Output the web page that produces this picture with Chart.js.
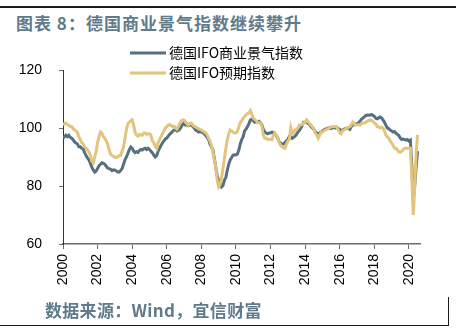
<!DOCTYPE html>
<html>
<head>
<meta charset="utf-8">
<script src="https://cdn.jsdelivr.net/npm/chart.js@4/dist/chart.umd.min.js"></script>
<style>
  html, body { margin: 0; padding: 0; background: #fff; }
  #wrap { position: relative; width: 456px; height: 331px; overflow: hidden; }
  #chart { position: absolute; left: 0; top: 0; }
  .title, .source {
    position: absolute;
    font-family: "Noto Sans CJK SC", sans-serif;
    font-weight: bold;
    font-size: 17px;
    color: #5f7b8b;
    white-space: nowrap;
    line-height: 20px;
  }
  .title { left: 16px; top: 13px; letter-spacing: 1px; }
  .source { left: 45px; top: 300px; letter-spacing: 0.3px; }
  .rule-top { position: absolute; left: 0; top: 6px; width: 456px; height: 2px; background: #1a1a1a; }
  .rule-bottom { position: absolute; left: 0; top: 325px; width: 449px; height: 1px; background: #1a1a1a; }
  .rule-right { position: absolute; left: 448px; top: 297px; width: 1px; height: 29px; background: #1a1a1a; }
</style>
</head>
<body>
<div id="wrap">
  <div class="rule-top"></div>
  <div class="title">图表 8：德国商业景气指数继续攀升</div>
  <canvas id="chart" width="456" height="331"></canvas>
  <div class="source">数据来源：Wind，宜信财富</div>
  <div class="rule-bottom"></div>
  <div class="rule-right"></div>
</div>
<script>
// Monthly readings, Jan 2000 .. Jul 2020
var startYear = 2000;

var climate = [
  96.5, 97.0, 97.5, 97.0, 97.5, 96.8, 96.5, 96.0, 95.2, 94.8, 94.5, 93.5,   // 2000
  93.5, 93.0, 92.8, 91.5, 90.5, 89.6, 89.0, 87.8, 86.5, 85.5, 84.8, 85.2,   // 2001
  86.0, 87.0, 87.5, 88.0, 87.8, 87.5, 86.8, 86.2, 86.0, 85.8, 85.3, 85.6,   // 2002
  85.5, 85.2, 84.8, 84.8, 85.3, 86.0, 87.5, 89.0, 90.0, 91.2, 92.5, 93.4,   // 2003
  93.0, 92.0, 91.5, 91.8, 91.6, 92.2, 92.6, 92.4, 92.8, 93.0, 92.6, 93.0,   // 2004
  92.6, 92.0, 91.5, 90.6, 90.0, 90.5, 92.0, 93.0, 94.0, 94.8, 95.6, 96.2,   // 2005
  96.5, 97.2, 97.8, 98.3, 98.8, 99.3, 99.5, 99.0, 99.2, 99.6, 100.4, 101.2, // 2006
  101.7, 101.0, 101.3, 100.8, 101.0, 101.0, 100.5, 100.0, 99.3, 99.0, 98.6, 98.8, // 2007
  98.6, 98.4, 98.0, 97.4, 96.8, 96.0, 94.4, 93.5, 92.4, 89.5, 86.5, 83.5,   // 2008
  82.0, 80.8, 79.7, 80.2, 82.0, 83.0, 85.5, 87.5, 89.0, 89.8, 90.7, 90.8,   // 2009
  90.7, 91.0, 92.4, 94.5, 96.0, 97.0, 99.0, 99.6, 100.5, 101.5, 102.8, 103.0, // 2010
  102.5, 102.0, 102.2, 102.0, 102.3, 101.8, 101.0, 99.5, 98.6, 98.3, 98.0, 98.3, // 2011
  98.3, 98.6, 98.3, 98.0, 97.4, 96.5, 95.2, 94.8, 94.5, 94.5, 95.0, 95.6,   // 2012
  96.0, 97.0, 96.8, 96.4, 96.8, 97.2, 97.8, 98.6, 99.2, 100.0, 101.0, 102.0, // 2013
  102.0, 102.0, 101.5, 101.2, 100.6, 100.0, 99.6, 98.8, 98.3, 98.0, 98.3, 98.6, // 2014
  99.0, 99.3, 99.6, 99.8, 100.0, 100.0, 99.8, 100.0, 100.3, 100.0, 100.2, 99.8, // 2015
  99.5, 99.0, 99.3, 99.6, 99.8, 100.0, 99.8, 99.5, 100.5, 101.0, 101.2, 101.3, // 2016
  101.5, 101.7, 102.3, 103.0, 103.4, 103.8, 104.3, 104.5, 104.4, 104.5, 104.6, 104.4, // 2017
  104.0, 103.4, 103.2, 103.5, 103.8, 103.5, 102.8, 102.0, 101.0, 100.0, 99.8, 99.3, // 2018
  99.0, 98.6, 98.8, 98.2, 97.8, 97.4, 96.5, 96.0, 96.2, 96.0, 95.8, 96.0,   // 2019
  95.5, 95.8, 87.0, 75.0, 80.0, 86.5, 92.0                                  // 2020
];

var expectations = [
  101.0, 101.5, 101.7, 101.2, 101.0, 100.5, 100.5, 99.8, 99.3, 99.0, 98.5, 97.0, // 2000
  96.0, 95.0, 94.5, 93.5, 93.0, 92.5, 91.7, 90.5, 88.5, 88.0, 90.0, 92.0,   // 2001
  95.0, 97.0, 98.6, 98.2, 97.0, 96.5, 95.5, 94.5, 92.5, 91.0, 90.5, 90.2,   // 2002
  90.0, 89.8, 90.0, 90.5, 90.5, 92.0, 93.4, 96.5, 99.5, 101.5, 102.0, 102.5, // 2003
  102.8, 101.0, 98.5, 97.6, 97.2, 97.8, 97.6, 97.5, 98.3, 98.3, 97.8, 98.0, // 2004
  98.0, 97.5, 95.5, 95.0, 93.5, 93.0, 95.0, 96.0, 97.0, 98.0, 99.0, 100.0,  // 2005
  100.4, 101.0, 101.2, 100.8, 100.5, 100.6, 100.0, 99.6, 100.5, 101.5, 102.5, 102.8, // 2006
  102.8, 102.0, 101.5, 101.0, 101.5, 101.7, 101.0, 100.6, 100.4, 100.0, 99.8, 99.5, // 2007
  99.3, 99.0, 98.6, 98.3, 97.6, 96.5, 95.5, 94.0, 91.7, 89.0, 86.6, 82.0,   // 2008
  79.7, 80.5, 82.8, 86.0, 89.6, 93.0, 96.0, 98.0, 99.3, 99.0, 98.6, 98.3,   // 2009
  98.3, 98.8, 100.4, 102.0, 102.5, 103.4, 104.0, 104.5, 105.0, 105.2, 106.0, 104.8, // 2010
  103.4, 103.0, 102.5, 102.0, 101.8, 101.7, 100.5, 97.5, 96.5, 96.5, 96.0, 96.0, // 2011
  96.2, 96.0, 97.5, 98.3, 97.6, 96.5, 95.0, 94.0, 93.5, 93.2, 93.0, 94.5,   // 2012
  95.5, 96.0, 100.0, 98.0, 98.3, 99.3, 99.5, 100.0, 101.0, 101.0, 101.3, 101.7, // 2013
  102.0, 102.8, 102.2, 101.5, 101.0, 100.4, 99.8, 98.3, 97.6, 96.5, 97.5, 98.6, // 2014
  98.6, 99.0, 99.3, 99.5, 99.8, 100.0, 100.4, 100.4, 100.6, 100.4, 100.4, 99.3, // 2015
  98.3, 98.0, 99.0, 99.3, 99.6, 100.0, 100.2, 100.5, 101.0, 102.0, 101.5, 101.0, // 2016
  101.0, 101.2, 101.0, 101.5, 101.7, 101.7, 102.0, 102.3, 102.5, 102.8, 102.6, 102.3, // 2017
  101.7, 101.5, 100.4, 100.4, 100.0, 100.3, 100.0, 99.0, 97.6, 97.0, 96.5, 95.5, // 2018
  94.8, 94.0, 93.0, 93.0, 92.5, 91.8, 91.7, 92.0, 92.5, 93.0, 93.0, 93.0,   // 2019
  93.0, 93.0, 83.0, 70.0, 79.5, 91.5, 97.6                                  // 2020
];

var seriesNames = ['德国IFO商业景气指数', '德国IFO预期指数'];
var yearTicks = [2000, 2002, 2004, 2006, 2008, 2010, 2012, 2014, 2016, 2018, 2020];
var valueTicks = [60, 80, 100, 120];

function toPoints(values) {
  return values.map(function (v, i) { return { x: startYear + i / 12, y: v }; });
}

// legend stacked in two rows above the plot, like the source figure
var stackedLegend = {
  id: 'stackedLegend',
  afterDraw: function (chart, args, opts) {
    var ctx = chart.ctx;
    ctx.save();
    ctx.font = '14px "Noto Sans CJK SC", sans-serif';
    ctx.textBaseline = 'middle';
    chart.data.datasets.forEach(function (ds, i) {
      var y = opts.top + i * opts.rowGap;
      ctx.strokeStyle = ds.borderColor;
      ctx.lineWidth = 3;
      ctx.beginPath();
      ctx.moveTo(opts.left, y);
      ctx.lineTo(opts.left + opts.lineLength, y);
      ctx.stroke();
      ctx.fillStyle = '#000';
      ctx.fillText(ds.label, opts.left + opts.lineLength + 3, y);
    });
    ctx.restore();
  }
};

new Chart(document.getElementById('chart'), {
  type: 'line',
  data: {
    datasets: [
      {
        label: seriesNames[0],
        data: toPoints(climate),
        borderColor: '#56707f',
        borderWidth: 3,
        pointRadius: 0,
        tension: 0,
        order: 1
      },
      {
        label: seriesNames[1],
        data: toPoints(expectations),
        borderColor: '#e2c47d',
        borderWidth: 3,
        pointRadius: 0,
        tension: 0,
        order: 0
      }
    ]
  },
  options: {
    responsive: false,
    animation: false,
    layout: { padding: { left: 0, right: 36, top: 70, bottom: 0 } },
    plugins: {
      legend: { display: false },
      tooltip: { enabled: false },
      title: { display: false },
      stackedLegend: { left: 130, top: 53, rowGap: 20, lineLength: 36 }
    },
    scales: {
      x: {
        type: 'linear',
        min: 2000,
        max: 2020.64,
        afterBuildTicks: function (scale) {
          scale.ticks = yearTicks.map(function (v) { return { value: v }; });
        },
        afterFit: function (scale) { scale.height = 87; },
        ticks: {
          autoSkip: false,
          minRotation: 90,
          maxRotation: 90,
          padding: 5,
          color: '#000',
          font: { family: '"Liberation Sans", sans-serif', size: 14 },
          callback: function (v) { return String(v); }
        },
        grid: { drawOnChartArea: false, drawTicks: true, tickLength: 5, color: '#6b6b6b' },
        border: { display: true, color: '#6b6b6b', width: 1.5 }
      },
      y: {
        min: 60,
        max: 120,
        afterBuildTicks: function (scale) {
          scale.ticks = valueTicks.map(function (v) { return { value: v }; });
        },
        afterFit: function (scale) { scale.width = 63; },
        ticks: {
          padding: 17,
          color: '#000',
          font: { family: '"Liberation Sans", sans-serif', size: 14 }
        },
        grid: { drawOnChartArea: false, drawTicks: true, tickLength: 4, color: '#6b6b6b' },
        border: { display: true, color: '#333', width: 1 }
      }
    }
  },
  plugins: [stackedLegend]
});
</script>
</body>
</html>
